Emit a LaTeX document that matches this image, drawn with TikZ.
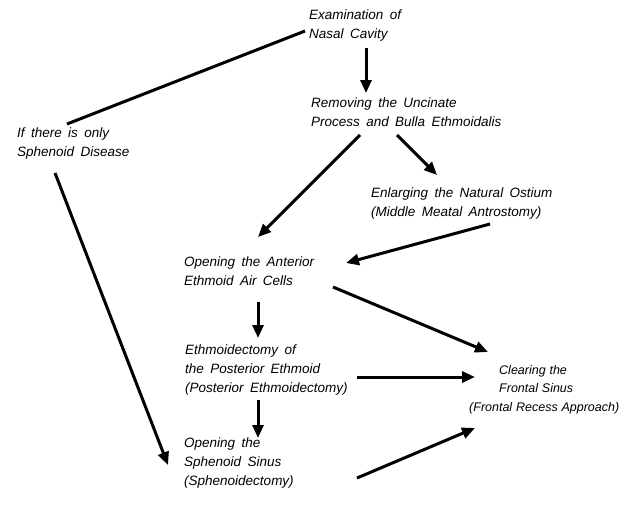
\documentclass[tikz,border=0pt]{standalone}
\usepackage{fontspec}
\setmainfont{Liberation Sans}[WordSpace=1.7]
\newfontfamily\clrfont{Liberation Sans}[WordSpace=1.1]
\usetikzlibrary{arrows.meta,calc}
\begin{document}
\begin{tikzpicture}[x=1pt,y=-1pt,
  lbl/.style={anchor=north west,align=left,inner sep=0pt,
    font=\fontsize{13.5}{19}\selectfont\itshape},
  lbls/.style={anchor=north west,align=left,inner sep=0pt,
    font=\clrfont\fontsize{12.5}{18.5}\selectfont\itshape},
  conn/.style={line width=3pt,-{Triangle[length=13pt,width=11pt]}},
  plain/.style={line width=3pt}]
\useasboundingbox (0,0) rectangle (623,504);
\node[lbl] (exam) at (309,10) {Examination of\\Nasal Cavity};
\node[lbl] (rem) at (311,98) {Removing the Uncinate\\Process and Bulla Ethmoidalis};
\node[lbl] (ifo) at (17,128) {If there is only\\Sphenoid Disease};
\node[lbl] (enl) at (371,188) {Enlarging the Natural Ostium\\(Middle Meatal Antrostomy)};
\node[lbl] (ant) at (184,257) {Opening the Anterior\\Ethmoid Air Cells};
\node[lbl] (eth) at (185,345) {Ethmoidectomy of\\the Posterior Ethmoid\\(Posterior Ethmoidectomy)};
\node[lbls] (clr) at (469,365) {\hspace{30pt}Clearing the\\\hspace{30pt}Frontal Sinus\\(Frontal Recess Approach)};
\node[lbl] (sph) at (184,438) {Opening the\\Sphenoid Sinus\\(Sphenoidectomy)};
% connectors
\draw[conn] ([shift={(57,38)}]exam.north west) -- ([shift={(55,-5)}]rem.north west);
\draw[plain] ([shift={(-4,21)}]exam.north west) -- ([shift={(50,-4)}]ifo.north west);
\draw[conn] ([shift={(49,37)}]rem.north west) -- ([shift={(74,-20)}]ant.north west);
\draw[conn] ([shift={(86,37)}]rem.north west) -- ([shift={(66,-13)}]enl.north west);
\draw[conn] ([shift={(119,36)}]enl.north west) -- ([shift={(162,6)}]ant.north west);
\draw[conn] ([shift={(149,30)}]ant.north west) -- ([shift={(19,-13)}]clr.north west);
\draw[conn] ([shift={(74,45)}]ant.north west) -- ([shift={(73,-7)}]eth.north west);
\draw[conn] ([shift={(172,32)}]eth.north west) -- ([shift={(6,12)}]clr.north west);
\draw[conn] ([shift={(73,55)}]eth.north west) -- ([shift={(74,0)}]sph.north west);
\draw[conn] ([shift={(173,40)}]sph.north west) -- ([shift={(6,63)}]clr.north west);
\draw[conn] ([shift={(38,45)}]ifo.north west) -- ([shift={(-16,27)}]sph.north west);
\end{tikzpicture}
\end{document}
